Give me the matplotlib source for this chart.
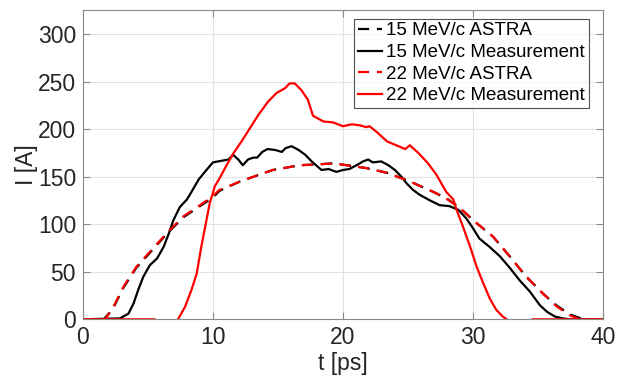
import numpy as np
import matplotlib
matplotlib.use("Agg")
import matplotlib.pyplot as plt

plt.rcParams['font.family'] = ['Liberation Sans', 'DejaVu Sans']

# 15 MeV/c ASTRA (dashed black)
t15_astra = [0, 1.6, 2.3, 3.1, 4.1, 5.15, 6.4, 7.7, 9.0, 10.0, 10.5, 12.1, 14.6, 16.7, 18.2, 19.3,
             21.8, 23.4, 25.15, 26.95, 28.0, 29.0, 30.3, 31.55, 32.85, 34.1, 35.4, 36.5, 37.5,
             38.5, 40]
i15_astra = [0, 0, 11, 33, 54, 70, 89, 107, 119, 128, 135, 145, 157, 162, 163, 164,
             159, 154, 145, 134, 127, 117, 101, 87, 66, 45, 27, 14, 5,
             0, 0]

# 15 MeV/c measurement (solid black)
t15_meas = [0, 2.85, 3.5, 3.9, 4.25, 4.65, 5.15, 5.7, 6.2, 6.6, 6.95, 7.45, 8.0, 8.35, 8.9,
            9.5, 10.0, 10.8, 11.2, 11.55, 11.95, 12.3, 12.7, 13.1, 13.4, 13.8, 14.2, 14.8,
            15.3, 15.6, 16.05, 16.6, 17.1, 17.6, 18.35, 18.9, 19.5, 20.0, 20.5, 21.05,
            21.55, 21.95, 22.3, 22.95, 23.5, 24.0, 24.5, 24.9, 25.4, 25.9, 26.7, 27.45,
            28.2, 28.9, 29.5, 30.0, 30.5, 31.3, 32.1, 32.85, 33.6, 34.4, 35.15, 35.7,
            36.3, 36.9, 37.5, 40]
i15_meas = [0, 1, 6, 17, 31, 45, 57, 64, 76, 90, 104, 118, 126, 134, 147,
            157, 165, 167, 168, 173, 168, 162, 168, 170, 170, 176, 179, 178,
            176, 180, 182, 178, 173, 166, 157, 158, 155, 157, 158, 162,
            166, 168, 165, 166, 162, 157, 150, 143, 136, 131, 125, 120,
            119, 115, 106, 96, 85, 76, 66, 54, 41, 29, 15, 8,
            3, 1, 0, 0]

# 22 MeV/c ASTRA (dashed red)
t22_astra = [0, 1.7, 2.3, 3.1, 4.1, 5.15, 6.4, 7.7, 9.0, 9.75, 10.5, 12.1, 14.6, 16.7, 18.2, 19.25,
             21.8, 23.4, 25.15, 26.95, 27.95, 29.0, 30.3, 31.55, 32.85, 34.1, 35.4, 36.5, 37.5,
             38.2, 40]
i22_astra = [0, 0, 12, 34, 55, 71, 90, 108, 120, 127, 136, 145, 157, 162, 163, 164,
             159, 154, 145, 134, 127, 117, 101, 87, 66, 45, 27, 13, 4,
             0, 0]

# 22 MeV/c measurement (solid red)
t22_meas = [0, 5.5, np.nan, 7.35, 7.85, 8.35, 8.75, 9.1, 9.4, 9.75, 10.15, 10.5, 11.05, 11.55,
            12.2, 12.85, 13.5, 14.25, 14.9, 15.55, 15.9, 16.3, 16.8, 17.3, 17.7, 18.5,
            19.25, 20.0, 20.7, 21.3, 21.8, 22.05, 22.6, 23.4, 24.1, 24.8, 25.15, 25.8,
            26.55, 27.2, 27.95, 28.5, 28.7, 29.25, 29.8, 30.3, 30.8, 31.3, 31.8, 32.3,
            32.6, np.nan, 34.6, 40]
i22_meas = [0, 0, np.nan, 1, 13, 31, 48, 76, 97, 122, 140, 148, 162, 174,
            187, 201, 215, 229, 238, 243, 248, 248, 241, 231, 214, 208,
            207, 203, 205, 204, 202, 203, 197, 187, 183, 179, 183, 175,
            164, 152, 134, 126, 117, 97, 76, 55, 38, 22, 10, 3,
            0, np.nan, 0, 0]

labels = ['15 MeV/c ASTRA', '15 MeV/c Measurement', '22 MeV/c ASTRA', '22 MeV/c Measurement']

fig = plt.figure(figsize=(6.24, 3.77), dpi=100)
ax = fig.add_axes([0.133, 0.153, 0.833, 0.820])

lw = 1.6
dash = (5, 3.5)
ax.plot(t15_astra, i15_astra, color='black', lw=lw, ls='--', dashes=dash, label=labels[0])
ax.plot(t15_meas, i15_meas, color='black', lw=lw, label=labels[1])
ax.plot(t22_astra, i22_astra, color='#ff0000', lw=lw, ls='--', dashes=dash, label=labels[2])
ax.plot(t22_meas, i22_meas, color='#ff0000', lw=lw, label=labels[3])

ax.set_xlim(0, 40)
ax.set_ylim(0, 325)
ax.set_xticks([0, 10, 20, 30, 40])
ax.set_yticks([0, 50, 100, 150, 200, 250, 300])
ax.grid(True, color='#e3e3e3', lw=0.8)
ax.set_axisbelow(True)

axis_col = '#8a8a8a'
for s in ax.spines.values():
    s.set_color(axis_col)
    s.set_linewidth(0.8)
ax.tick_params(direction='in', length=5, width=0.8, color=axis_col,
               top=True, right=True, labelsize=16.5, labelcolor='#262626', pad=5)

ax.set_xlabel('t [ps]', fontsize=16.5, color='#262626', labelpad=2)
ax.set_ylabel('I [A]', fontsize=16.5, color='#262626', labelpad=0)

leg = ax.legend(loc='upper right', bbox_to_anchor=(0.98, 0.985), fontsize=13.5,
                frameon=True, fancybox=False, handlelength=1.3, handletextpad=0.2,
                borderpad=0.2, labelspacing=0.24, borderaxespad=0.2)
leg.get_frame().set_edgecolor('#262626')
leg.get_frame().set_linewidth(0.8)

fig.savefig('out.png', dpi=100)
